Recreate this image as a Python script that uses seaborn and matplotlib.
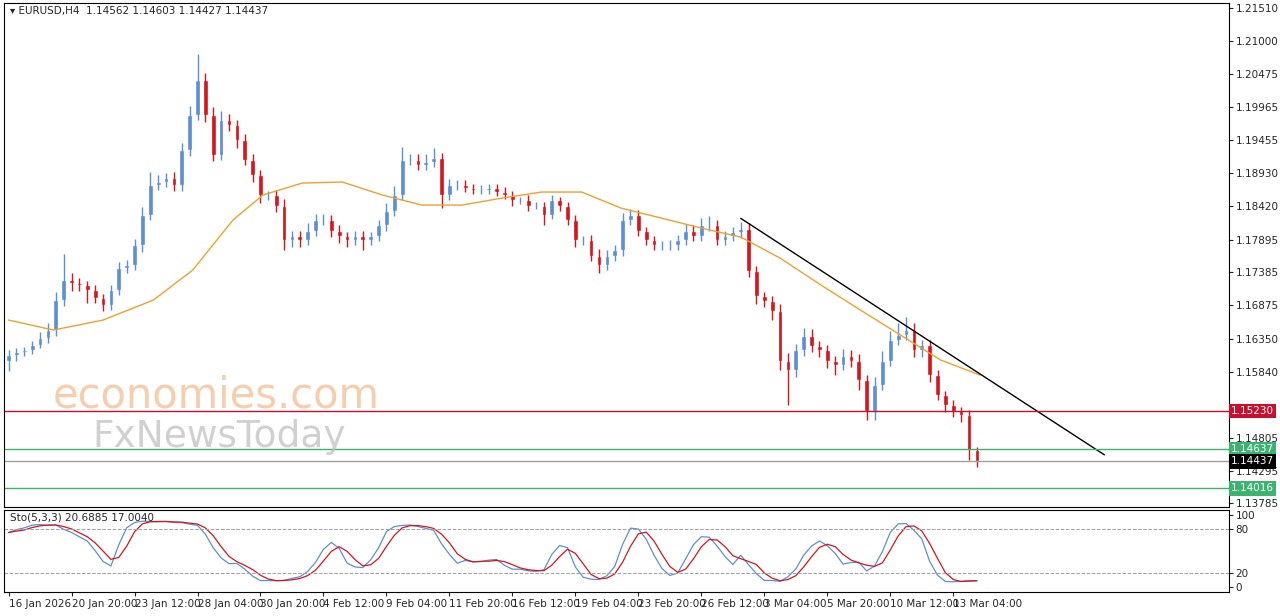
import numpy as np
import pandas as pd
import seaborn as sns
import matplotlib.pyplot as plt

# closes (one candle per slot)
closes = [1.1610, 1.1615, 1.1618, 1.1626, 1.1637, 1.1649, 1.1696, 1.1727, 1.1722, 1.1719,
          1.1711, 1.1699, 1.1688, 1.1711, 1.1745, 1.1750, 1.1781, 1.1828, 1.1875, 1.1880,
          1.1886, 1.1875, 1.1929, 1.1984, 1.2039, 1.1984, 1.1922, 1.1976, 1.1969, 1.1945,
          1.1914, 1.1890, 1.1859, 1.1859, 1.1843, 1.1789, 1.1796, 1.1789, 1.1804, 1.1820,
          1.1820, 1.1804, 1.1796, 1.1789, 1.1796, 1.1789, 1.1796, 1.1812, 1.1835, 1.1859,
          1.1914, 1.1914, 1.1906, 1.1911, 1.1917, 1.1859, 1.1875, 1.1875, 1.1870, 1.1867,
          1.1867, 1.1870, 1.1864, 1.1859, 1.1851, 1.1851, 1.1843, 1.1843, 1.1828, 1.1851,
          1.1843, 1.1820, 1.1789, 1.1789, 1.1765, 1.1750, 1.1765, 1.1773, 1.1820, 1.1828,
          1.1804, 1.1789, 1.1781, 1.1781, 1.1781, 1.1789, 1.1804, 1.1796, 1.1812, 1.1812,
          1.1789, 1.1796, 1.1801, 1.1807, 1.1741, 1.1702, 1.1694, 1.1679, 1.1601, 1.1586,
          1.1617, 1.1640, 1.1624, 1.1617, 1.1601, 1.1594, 1.1609, 1.1601, 1.1570, 1.1523,
          1.1563, 1.1601, 1.1633, 1.1641, 1.1649, 1.1617, 1.1625, 1.1578, 1.1547, 1.1531,
          1.1523, 1.1516, 1.1461, 1.14437]
first_open = 1.1600
# wick extensions in pips
hi_ext = [8, 6, 5, 6, 8, 10, 12, 40, 10, 8, 6, 8, 6, 8, 10, 8, 10, 12, 20, 10,
          8, 10, 12, 15, 40, 10, 12, 15, 10, 8, 10, 10, 8, 6, 8, 10, 8, 8, 12, 10,
          10, 8, 8, 6, 8, 8, 6, 8, 12, 15, 20, 10, 10, 12, 15, 8, 10, 8, 8, 6,
          8, 6, 6, 8, 6, 6, 8, 6, 6, 8, 6, 6, 8, 6, 8, 10, 8, 8, 12, 10,
          8, 6, 6, 6, 8, 8, 10, 8, 12, 15, 8, 8, 8, 10, 8, 8, 6, 8, 10, 12,
          10, 12, 10, 8, 8, 8, 10, 8, 10, 8, 12, 15, 15, 18, 20, 10, 8, 8, 8, 6,
          8, 6, 8, 6]
lo_ext = [15, 10, 6, 6, 6, 8, 10, 10, 12, 10, 20, 8, 10, 8, 8, 8, 8, 10, 8, 8,
          8, 10, 10, 8, 8, 10, 10, 8, 10, 12, 8, 10, 12, 8, 10, 15, 10, 10, 8, 8,
          8, 10, 12, 10, 8, 15, 8, 8, 8, 8, 8, 8, 8, 8, 8, 20, 8, 8, 6, 6,
          6, 6, 6, 6, 8, 6, 8, 6, 15, 6, 8, 8, 10, 8, 8, 12, 8, 8, 8, 8,
          8, 8, 8, 8, 8, 8, 8, 8, 8, 8, 8, 8, 8, 8, 10, 12, 10, 15, 15, 55,
          10, 8, 10, 10, 12, 15, 8, 10, 15, 15, 15, 8, 8, 8, 8, 10, 10, 10, 8, 10,
          10, 10, 15, 8]

# moving average (orange) read at sparse points
ma_idx = [0, 5.7, 12, 18.4, 23.4, 28.5, 32.3, 37.3, 42.4, 47.5, 52.5, 57.6, 62.7,
          67.7, 72.8, 77.8, 82.9, 88, 93, 98, 103.2, 108.2, 113.3, 118.4, 123.4]
ma_val = [1.16643, 1.16487, 1.16643, 1.16955, 1.17423, 1.18203, 1.18593, 1.18780,
          1.18796, 1.18593, 1.18437, 1.18437, 1.18546, 1.18640, 1.18640, 1.18390,
          1.18234, 1.18078, 1.17938, 1.17610, 1.17189, 1.16799, 1.16409, 1.16019, 1.15785]

trend_idx = [93, 139.2]
trend_val = [1.1823, 1.1454]

levels = [1.15230, 1.14637, 1.14437, 1.14016]
level_colors = ['#c8102e', '#3cb371', '#000000', '#3cb371']
line_colors = ['#c8102e', '#3cb371', '#a0a0a0', '#3cb371']

yticks = [1.21510, 1.21000, 1.20475, 1.19965, 1.19455, 1.18930, 1.18420, 1.17895,
          1.17385, 1.16875, 1.16350, 1.15840, 1.14805, 1.14295, 1.13785]
date_labels = ['16 Jan 2026', '20 Jan 20:00', '23 Jan 12:00', '28 Jan 04:00', '30 Jan 20:00',
               '4 Feb 12:00', '9 Feb 04:00', '11 Feb 20:00', '16 Feb 12:00', '19 Feb 04:00',
               '23 Feb 20:00', '26 Feb 12:00', '3 Mar 04:00', '5 Mar 20:00', '10 Mar 12:00',
               '13 Mar 04:00']

sns.set_style('white')
plt.rcParams['font.family'] = ['DejaVu Sans']

n = len(closes)
df = pd.DataFrame({'i': np.arange(n), 'close': closes})
df['open'] = [first_open] + closes[:-1]
df['high'] = df[['open', 'close']].max(axis=1) + np.array(hi_ext) * 1e-4
df['low'] = df[['open', 'close']].min(axis=1) - np.array(lo_ext) * 1e-4

# stochastic 5,3,3
lo5 = df['low'].rolling(5, min_periods=1).min()
hi5 = df['high'].rolling(5, min_periods=1).max()
df['k'] = ((df['close'] - lo5).rolling(3, min_periods=1).sum() /
           (hi5 - lo5).rolling(3, min_periods=1).sum() * 100)
df['d'] = df['k'].rolling(3, min_periods=1).mean()

fig = plt.figure(figsize=(12.8, 6.16), dpi=100)
ax = fig.add_axes([0.003, 0.177, 0.957, 0.818])
ax2 = fig.add_axes([0.003, 0.039, 0.957, 0.133])

up = df['close'] >= df['open']
cols = np.where(up, '#5b8fd6', '#d8141c')
ax.vlines(df['i'], df['low'], df['high'], colors=cols, linewidth=1)
ax.bar(df['i'], (df['close'] - df['open']).abs().clip(lower=0.00008),
       bottom=df[['open', 'close']].min(axis=1), width=0.6, color=cols)

sns.lineplot(x=ma_idx, y=ma_val, ax=ax, color='#f0a030', linewidth=1)
ax.plot(trend_idx, trend_val, color='black', linewidth=1)

xmax = 155
for lv, lc, bc in zip(levels, line_colors, level_colors):
    ax.axhline(lv, color=lc, linewidth=1)
    ax.text(1.002, lv, f'{lv:.5f}', transform=ax.get_yaxis_transform(), fontsize=7.5,
            color='white', va='center', ha='left',
            bbox=dict(boxstyle='square,pad=0.2', fc=bc, ec='none'), clip_on=False)

ax.set_xlim(-0.6, xmax)
ax.set_ylim(1.13727, 1.21588)
ax.yaxis.tick_right()
ax.set_yticks(yticks)
ax.set_yticklabels([f'{t:.5f}' for t in yticks], fontsize=7.5)
ax.tick_params(axis='y', length=3, pad=2, right=True)
ax.set_xticks([])
for s in ax.spines.values():
    s.set_color('black')
    s.set_linewidth(0.8)

ax.text(0.005, 0.995, '\u25be EURUSD,H4  1.14562 1.14603 1.14427 1.14437',
        transform=ax.transAxes, fontsize=7.5, va='top', ha='left')
ax.text(0.04, 0.222, 'economies.com', transform=ax.transAxes, fontsize=30,
        color='#f3b98a', alpha=0.7, va='center', ha='left')
ax.text(0.072, 0.139, 'FxNewsToday', transform=ax.transAxes, fontsize=27,
        color='#bdbdbd', alpha=0.7, va='center', ha='left')

sns.lineplot(x=df['i'], y=df['k'], ax=ax2, color='#5b8fd6', linewidth=0.9)
sns.lineplot(x=df['i'], y=df['d'], ax=ax2, color='#d8141c', linewidth=0.9)
for lv in (80, 20):
    ax2.axhline(lv, color='#a0a0a0', linestyle='--', linewidth=0.7)
ax2.set_xlim(-0.6, xmax)
ax2.set_ylim(-7, 107)
ax2.yaxis.tick_right()
ax2.set_yticks([100, 80, 20, 0])
ax2.set_yticklabels(['100', '80', '20', '0'], fontsize=7.5)
ax2.tick_params(axis='y', length=3, pad=2, right=True)
ax2.set_ylabel('')
ax2.set_xlabel('')
ax2.set_xticks(np.arange(0, 8 * len(date_labels), 8))
ax2.set_xticklabels(date_labels, fontsize=7.5, ha='left')
ax2.tick_params(axis='x', length=3, pad=2, bottom=True)
for s in ax2.spines.values():
    s.set_color('black')
    s.set_linewidth(0.8)
ax2.text(0.005, 0.97, 'Sto(5,3,3) 20.6885 17.0040', transform=ax2.transAxes,
         fontsize=7.5, va='top', ha='left')

fig.savefig('out.png', dpi=100)
